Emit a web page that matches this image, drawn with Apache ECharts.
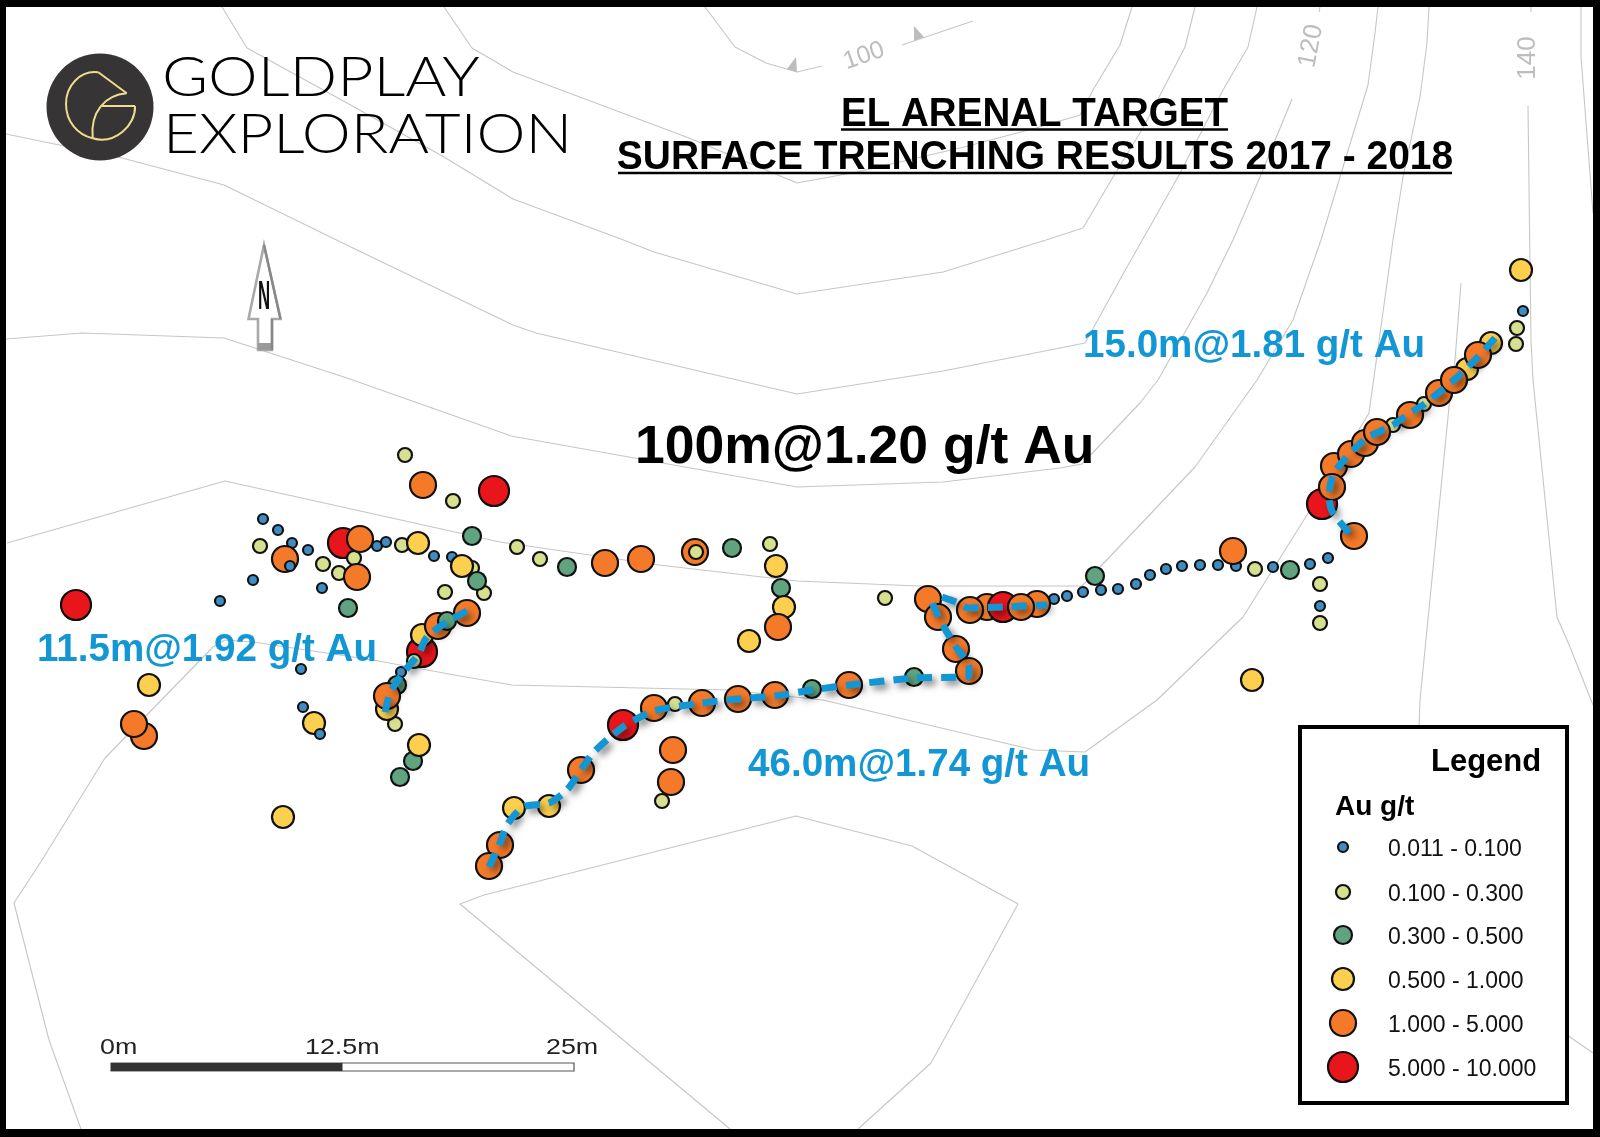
<!DOCTYPE html>
<html><head><meta charset="utf-8">
<style>html,body{margin:0;padding:0;background:#fff}#c{width:1600px;height:1137px}</style>
<script src="https://cdn.jsdelivr.net/npm/echarts@6/dist/echarts.min.js"></script>
</head><body><div id="c"></div>
<script>
// ---- Sample classes (map position)
const classRed = [[76,605],[494,491],[343,543],[422,652],[1003,607],[623,725],[1322,504]];
const classOrangeLow = [[987,607]];
const classOrange = [[423,485],[285,559],[360,539],[357,577],[467,613],[438,626],[387,696],[144,736],[134,724],
 [605,563],[641,559],[695,552],[778,627],[928,599],[938,617],[956,649],[969,671],[970,610],[1037,604],[1021,607],
 [849,685],[775,695],[738,699],[702,703],[654,708],[581,770],[673,750],[671,782],[500,845],[489,866],
 [1233,551],[1354,536],[1334,466],[1332,487],[1351,454],[1365,443],[1377,432],[1410,415],[1439,393],[1454,380],[1478,355]];
const classYellow = [[418,543],[462,566],[149,685],[314,723],[387,709],[419,745],[283,817],[422,635],
 [776,566],[784,607],[749,641],[514,808],[549,806],[1521,270],[1252,680],[1491,343],[1467,369]];
const classGreen = [[472,536],[477,581],[348,608],[397,685],[413,761],[400,777],[567,567],[732,548],[781,588],[812,689],[914,677],[1095,576],[1290,570]];
const classGreenTop = [[447,621]];
const classLight = [[405,455],[453,501],[260,546],[323,564],[339,573],[354,558],[402,545],[445,592],[484,593],[395,724],[414,661],[472,568],
 [517,547],[540,559],[770,544],[885,598],[675,704],[662,801],[1517,328],[1516,344],[1255,569],[1320,584],[1320,623],[1393,425],[1424,404]];
const classLightTop = [[696,552]];
const classBlue = [[263,519],[278,530],[292,543],[308,550],[253,580],[220,601],[322,588],[377,546],[386,542],[434,556],[452,557],[301,669],[303,707],[401,672],
 [1523,311],[1054,599],[1067,596],[1083,592],[1118,589],[1136,584],[1150,575],[1166,569],[1182,566],[1200,565],[1218,565],[1236,566],[1273,567],[1310,564],[1328,558],[1320,606]];
const classBlueTop = [[290,566],[320,734],[1101,590]];

// ---- Legend
const legendLabels = ['0.011 - 0.100','0.100 - 0.300','0.300 - 0.500','0.500 - 1.000','1.000 - 5.000','5.000 - 10.000'];
const legendSwatchY = [847,892,935,979,1023,1067];
const legendSwatchX = 1343;
const classColors = ['#3f8cc0','#d6e08f','#5fa37f','#fccf4f','#f47a2a','#e8161b'];
const classSizes = [10,14,18,22,26,30];

// ---- Mineralised intervals (dashed)
const interval11m = [[467,611],[447,622],[427,637],[418,655],[403,673],[390,693],[385,713]];
const interval46m = [[489,867],[500,843],[507,825],[523,807],[549,803],[567,790],[581,770],[594,752],[623,727],[654,711],[702,703],[738,699],[775,696],[812,690],[849,685],[914,678],[969,676],[969,667],[956,647],[944,627],[934,607],[931,598]];
const interval46mB = [[942,597],[956,602],[969,608],[1003,607],[1047,605]];
const interval15m = [[1495,338],[1478,357],[1454,380],[1423,405],[1410,413],[1393,425],[1364,440],[1334,473],[1329,497],[1333,513],[1354,538]];

// ---- Contours
const contourA1 = [[705,7],[735,47],[766,63],[797,72],[822,66]];
const contourA2 = [[902,45],[973,21]];
const contourB = [[444,7],[472,48],[513,72],[689,138],[797,183],[857,172],[964,147],[1036,128],[1080,115],[1093,90],[1120,45],[1132,7]];
const contourC = [[222,7],[247,48],[347,103],[444,157],[513,199],[621,239],[654,252],[797,294],[943,272],[1046,240],[1083,228],[1113,177],[1143,128],[1185,47],[1195,7]];
const contourD = [[6,134],[122,158],[224,185],[357,250],[513,325],[536,333],[797,394],[943,371],[1060,348],[1085,343],[1127,267],[1178,177],[1223,90],[1248,47],[1257,7]];
const contourE1 = [[6,339],[82,333],[224,338],[347,378],[500,432],[511,436],[797,487],[943,482],[1060,468],[1082,464],[1140,403],[1158,380],[1207,293],[1233,240],[1260,177],[1292,99]];
const contourE2 = [[1320,7],[1319,12]];
const contourF = [[7,543],[225,481],[500,542],[659,565],[797,581],[919,586],[1082,586],[1195,467],[1257,380],[1293,320],[1321,240],[1340,177],[1368,85],[1375,33],[1378,7]];
const contourG = [[81,1129],[49,1040],[14,903],[42,860],[105,758],[213,647],[225,640],[253,642],[373,660],[460,676],[512,685],[728,690],[823,700],[1034,750],[1085,752],[1157,700],[1243,617],[1312,507],[1369,413],[1393,240],[1403,177],[1420,97],[1427,43],[1429,7]];
const contourH = [[1461,283],[1455,360],[1450,397],[1420,700],[1419,726],[1500,980],[1570,1037],[1593,1053]];
const contourI1 = [[1531,7],[1531,12]];
const contourI2 = [[1528,106],[1530,267],[1531,340],[1533,380],[1557,617],[1570,647],[1593,705]];
const contourJ = [[1581,7],[1581,57],[1593,213]];
const contourK = [[730,1129],[460,904],[484,895],[796,816],[912,846],[1018,904],[931,1063],[858,1129]];
const allContours = [contourA1,contourA2,contourB,contourC,contourD,contourE1,contourE2,contourF,contourG,contourH,contourI1,contourI2,contourJ,contourK];

// ---- Text
const titleLine1 = 'EL ARENAL TARGET';
const titleLine2 = 'SURFACE TRENCHING RESULTS 2017 - 2018';
const headline = '100m@1.20 g/t Au';
const label11 = '11.5m@1.92 g/t Au';
const label46 = '46.0m@1.74 g/t Au';
const label15 = '15.0m@1.81 g/t Au';
const scaleLabels = ['0m','12.5m','25m'];

const BLUE = '#1296d4', BLK = '#000', GREY = '#c6c6c6', SANS = '"Liberation Sans", Arial, sans-serif';

function pts(name, data, idx, z) {
  return {type:'scatter', name, data, z, symbol:'circle', symbolSize:classSizes[idx], silent:true, clip:false,
    itemStyle:{color:classColors[idx], borderColor:'#111', borderWidth:2.2, opacity:1}};
}
function dash(name, data, z) {
  return {type:'line', name, data, z, smooth:0.25, showSymbol:false, symbol:'none', silent:true, clip:false,
    lineStyle:{color:BLUE, width:7, type:[15,9], cap:'butt', shadowColor:'rgba(0,0,0,0.5)', shadowBlur:7, shadowOffsetX:4, shadowOffsetY:4}};
}
const series = [];
allContours.forEach((c,i)=>series.push({type:'line', name:'contour'+i, data:c, z:1, showSymbol:false, symbol:'none', silent:true, clip:false,
  lineStyle:{color:GREY, width:1.1}}));
series.push(pts('1-5 low', classOrangeLow, 4, 3));
series.push(pts('5-10', classRed, 5, 4));
series.push(pts('0.1-0.3', classLight, 1, 5));
series.push(pts('0.011-0.1', classBlue, 0, 6));
series.push(pts('0.3-0.5', classGreen, 2, 7));
series.push(pts('0.5-1', classYellow, 3, 8));
series.push(pts('1-5', classOrange, 4, 9));
series.push(pts('0.3-0.5 top', classGreenTop, 2, 10));
series.push(pts('0.1-0.3 top', classLightTop, 1, 10));
series.push(pts('0.011-0.1 top', classBlueTop, 0, 10));
series.push(dash('11.5m', interval11m, 11));
series.push(dash('46.0m', interval46m, 11));
series.push(dash('46.0m b', interval46mB, 11));
series.push(dash('15.0m', interval15m, 11));
legendLabels.forEach((l,i)=>series.push(pts('legend '+l, [[legendSwatchX, legendSwatchY[i]]], i, 41)));

function txt(text, x, y, font, fill, opt) {
  opt = opt || {};
  return {type:'text', x, y, z:opt.z||15, scaleX:opt.sx||1, scaleY:opt.sy||1, rotation:opt.rot||0, silent:true,
    style:{text, x:0, y:0, font, fill, textAlign:opt.align||'left', textVerticalAlign:'middle'}};
}
function seg(x1,y1,x2,y2,color,w,z){return {type:'line',z:z||15,silent:true,shape:{x1,y1,x2,y2},style:{stroke:color,lineWidth:w}};}
function box(x,y,width,height,fill,z,stroke,lw){return {type:'rect',z:z||15,silent:true,shape:{x,y,width,height},style:{fill,stroke:stroke||null,lineWidth:lw||0}};}
function bez(a,b,c1,c2,z){return {type:'bezierCurve',z:z,silent:true,shape:{x1:a[0],y1:a[1],x2:b[0],y2:b[1],cpx1:c1[0],cpy1:c1[1],cpx2:c2[0],cpy2:c2[1]},style:{stroke:'#efdc8e',lineWidth:2,fill:null}};}
function poly(points, fill, z, stroke, lw){return {type:'polygon',z:z||15,silent:true,shape:{points},style:{fill,stroke:stroke||null,lineWidth:lw||0}};}

const LT = '300 56px Lato, "Open Sans", sans-serif';
const graphics = [
  // logo
  {type:'circle',z:15,silent:true,shape:{cx:100,cy:107,r:53.5},style:{fill:'#373435'}},
  bez([98.3,72.3],[66,104],[80,70],[66,86],16),
  bez([66,104],[92.7,138.3],[66,122],[78,135],16),
  seg(98.3,72.3,126.7,93.3,'#efdc8e',2,16),
  bez([126.7,93.3],[92.7,138.3],[105,95],[90,112],16),
  bez([92.7,138.3],[135,106],[115,145],[136,125],16),
  seg(135,106,102,106,'#efdc8e',2,16),
  txt('GOLDPLAY',162,78,LT,'#000',{sx:1.12}),
  txt('EXPLORATION',163,135,LT,'#000',{sx:1.105}),
  // title
  txt(titleLine1,1034.5,115,'bold 40px '+SANS,BLK,{align:'center',sx:0.964}),
  seg(841,129.5,1228,129.5,BLK,2.5),
  txt(titleLine2,1035,158,'bold 40px '+SANS,BLK,{align:'center',sx:0.973}),
  seg(618,173,1452,173,BLK,2.5),
  // annotations
  txt(headline,635,448,'bold 53.5px '+SANS,BLK),
  txt(label11,37,650,'bold 38.6px '+SANS,BLUE),
  txt(label46,748,765,'bold 38.6px '+SANS,BLUE),
  txt(label15,1083,346,'bold 38.6px '+SANS,BLUE),
  // north arrow
  poly([[264,245],[280.5,319],[272,319],[272,350],[258,350],[258,319],[248.5,319]],'#fff',15,'#a9a9a9',2.6),
  poly([[258,343],[272,343],[272,350],[258,350]],'#999',15),
  seg(264,245,280.5,319,'#888',2.4),
  seg(272,319,272,350,'#888',2.4),
  txt('N',264,298,'bold 40px '+SANS,'#111',{align:'center',sx:0.42}),
  // contour labels
  txt('100',864,56,'25px '+SANS,'#bdbdbd',{align:'center',rot:0.33}),
  txt('120',1311,46,'26px '+SANS,'#bdbdbd',{align:'center',rot:1.38}),
  txt('140',1528,58,'26px '+SANS,'#bdbdbd',{align:'center',rot:Math.PI/2}),
  poly([[796,57],[787,69],[797,72]],'#bdbdbd',2),
  poly([[914,26],[914,41],[924,37]],'#bdbdbd',2),
  // scale bar
  box(111,1063,463,8,'#fff',15,'#555',1.2),
  box(111,1063,231.5,8,'#333',15),
  txt(scaleLabels[0],100,1048,'22px '+SANS,'#222',{sx:1.22}),
  txt(scaleLabels[1],305,1048,'22px '+SANS,'#222',{sx:1.22}),
  txt(scaleLabels[2],546,1048,'22px '+SANS,'#222',{sx:1.22}),
  // legend
  box(1300,727,267,376,'#fff',40,'#000',4),
  txt('Legend',1431,762,'bold 31px '+SANS,'#000',{z:42}),
  txt('Au g/t',1335,807,'bold 28px '+SANS,'#000',{z:42}),
  // frame
  box(0,0,1600,7,'#000',50), box(0,1129,1600,8,'#000',50), box(0,0,6,1137,'#000',50), box(1593,0,7,1137,'#000',50)
];
legendLabels.forEach((l,i)=>graphics.push(txt(l,1388,legendSwatchY[i]+3,'23px '+SANS,'#111',{z:42})));

const chart = echarts.init(document.getElementById('c'), null, {renderer:'canvas', width:1600, height:1137});
chart.setOption({
  animation:false, backgroundColor:'#fff', tooltip:{show:false}, legend:{show:false},
  grid:{left:0,right:0,top:0,bottom:0,containLabel:false},
  xAxis:{type:'value',min:0,max:1600,show:false},
  yAxis:{type:'value',min:0,max:1137,inverse:true,show:false},
  series, graphic:{elements:graphics}
});
</script></body></html>
